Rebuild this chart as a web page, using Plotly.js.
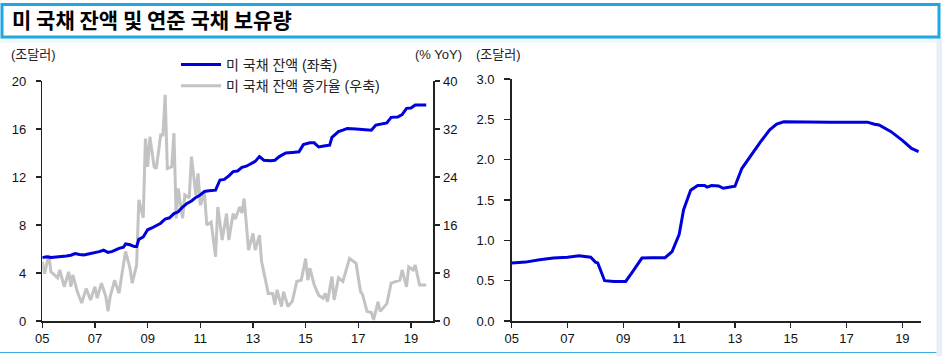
<!DOCTYPE html>
<html>
<head>
<meta charset="utf-8">
<script src="https://cdn.plot.ly/plotly-3.0.1.min.js"></script>
<style>
html,body{margin:0;padding:0;background:#fff;}
#chart{width:942px;height:356px;}
</style>
</head>
<body>
<div id="chart"></div>
<script>
// ---------- DATA ----------
const tickYears = ['2005-01-01','2007-01-01','2009-01-01','2011-01-01','2013-01-01','2015-01-01','2017-01-01','2019-01-01'];
const tickLabels = ['05','07','09','11','13','15','17','19'];

// 미 국채 잔액 (조달러, 좌축)
const debtDates = ['2005-01','2005-03','2005-05','2005-07','2005-09','2005-12',
  '2006-02','2006-04','2006-06','2006-08','2006-10','2006-12',
  '2007-03','2007-05','2007-07','2007-09','2007-12',
  '2008-02','2008-03','2008-05','2008-07','2008-08','2008-09','2008-11',
  '2009-01','2009-03','2009-05','2009-07','2009-09','2009-11',
  '2010-01','2010-03','2010-05','2010-07','2010-09','2010-11',
  '2011-01','2011-03','2011-05','2011-07','2011-08','2011-10','2011-12',
  '2012-02','2012-04','2012-06','2012-08','2012-10','2012-12',
  '2013-02','2013-04','2013-06','2013-09','2013-11',
  '2014-01','2014-04','2014-07','2014-10','2014-12',
  '2015-03','2015-05','2015-07','2015-10','2015-12',
  '2016-01','2016-04','2016-06','2016-08','2016-12',
  '2017-04','2017-07','2017-09','2017-12',
  '2018-02','2018-04','2018-07','2018-09','2018-11',
  '2019-01','2019-03','2019-08'];
const debtLevel = [5.28,5.35,5.3,5.32,5.38,5.42,
  5.48,5.62,5.55,5.5,5.58,5.65,
  5.78,5.9,5.72,5.8,6.05,
  6.15,6.42,6.35,6.2,6.2,6.8,7.0,
  7.6,7.75,7.95,8.15,8.5,8.6,
  8.95,9.1,9.5,9.8,10.0,10.3,
  10.5,10.8,10.85,10.9,10.9,11.75,11.8,
  12.1,12.45,12.5,12.8,12.9,13.1,
  13.3,13.7,13.4,13.35,13.4,
  13.7,14.0,14.05,14.1,14.7,
  14.85,14.85,14.5,14.6,14.65,
  15.3,15.78,15.9,16.05,16.0,
  15.95,15.9,16.33,16.4,
  16.5,16.97,17.0,17.2,17.72,
  17.75,18.0,18.0];

// 미 국채 잔액 증가율 (% YoY, 우축)
const growthDates = ['2005-01','2005-02','2005-04','2005-05','2005-08','2005-09','2005-11',
  '2006-01','2006-02','2006-03','2006-05','2006-07','2006-09','2006-11',
  '2007-01','2007-02','2007-04','2007-06','2007-07','2007-08','2007-10','2007-12',
  '2008-01','2008-03','2008-05','2008-06','2008-08','2008-09','2008-11','2008-12',
  '2009-01','2009-02','2009-04','2009-05','2009-07','2009-08','2009-09','2009-10','2009-12',
  '2010-01','2010-02','2010-03','2010-05','2010-06','2010-08','2010-09','2010-11','2010-12',
  '2011-01','2011-03','2011-04','2011-06','2011-08','2011-09','2011-11',
  '2012-01','2012-02','2012-04','2012-05','2012-07','2012-08','2012-09','2012-11',
  '2013-01','2013-02','2013-04','2013-05','2013-08','2013-10','2013-11','2013-12',
  '2014-02','2014-03','2014-05','2014-07','2014-09','2014-11',
  '2015-01','2015-02','2015-03','2015-05','2015-07','2015-09','2015-10','2015-11',
  '2016-01','2016-02','2016-04','2016-06','2016-08','2016-09','2016-12',
  '2017-02','2017-03','2017-05','2017-07','2017-08','2017-10','2017-11',
  '2018-02','2018-04','2018-08','2018-09','2018-11','2018-12',
  '2019-02','2019-03','2019-05','2019-08'];
const debtGrowth = [9.9,7.9,11.0,8.2,7.2,8.5,5.7,
  8.2,5.7,7.7,4.9,3.0,5.4,3.5,
  5.7,3.8,6.3,4.1,1.6,4.1,6.8,4.6,
  7.1,11.6,8.8,6.3,9.3,20.2,17.2,30.4,
  25.7,30.7,25.7,25.4,31.0,31.0,37.7,25.4,25.7,
  31.3,17.1,22.1,17.1,21.0,20.5,27.4,21.0,24.6,
  19.3,21.3,16.0,16.5,10.7,19.0,13.5,
  17.9,13.5,17.9,17.0,19.0,18.0,20.4,11.8,
  14.6,11.8,14.3,9.9,4.6,4.6,2.7,5.2,
  2.4,4.9,2.4,3.3,6.6,6.8,
  10.4,6.8,8.8,6.0,4.3,3.8,4.6,3.2,
  7.4,3.5,7.2,6.6,9.0,10.4,9.6,
  4.9,4.4,1.6,1.4,0.2,3.2,1.6,
  2.9,6.3,6.8,8.5,5.7,9.0,
  8.5,9.3,6.0,6.0];

// 연준 국채 보유량 (조달러)
const fedDates = ['2005-01','2005-07','2006-01','2006-07','2007-01','2007-06','2007-11',
  '2008-01','2008-02','2008-05','2008-09','2009-02','2009-05','2009-09',
  '2010-01','2010-07','2010-10','2011-01','2011-03','2011-06','2011-09','2011-12',
  '2012-01','2012-03','2012-06','2012-08','2012-11','2013-01','2013-04','2013-08','2013-12',
  '2014-04','2014-07','2014-10','2015-06','2016-06','2017-06','2017-10',
  '2018-01','2018-03','2018-08','2019-01','2019-05','2019-08'];
const fedHoldings = [0.72,0.73,0.76,0.78,0.79,0.81,0.79,
  0.73,0.72,0.50,0.49,0.49,0.61,0.78,
  0.785,0.785,0.86,1.07,1.38,1.62,1.68,1.68,
  1.66,1.68,1.675,1.645,1.66,1.67,1.89,2.06,2.22,
  2.37,2.44,2.47,2.465,2.465,2.465,2.465,
  2.44,2.43,2.35,2.24,2.14,2.10];

// ---------- LAYOUT HELPERS ----------
const W = 942, H = 356;
const px = v => v / W;
const py = v => 1 - v / H;

const AX = '#222222';
const FONT = 'Liberation Sans, Arial, Noto Sans CJK KR, sans-serif';
const KFONT = 'Liberation Sans, Noto Sans CJK KR, sans-serif';
const BLUE = '#0000DD';
const GRAY = '#C3C3C3';

const traces = [
  {x: debtDates, y: debtLevel, type: 'scatter', mode: 'lines', name: '미 국채 잔액 (좌축)',
   xaxis: 'x', yaxis: 'y2', line: {color: BLUE, width: 3}},
  {x: growthDates, y: debtGrowth, type: 'scatter', mode: 'lines', name: '미 국채 잔액 증가율 (우축)',
   xaxis: 'x', yaxis: 'y', line: {color: GRAY, width: 3}},
  {x: fedDates, y: fedHoldings, type: 'scatter', mode: 'lines', name: '연준 국채 보유량',
   xaxis: 'x2', yaxis: 'y3', line: {color: BLUE, width: 3}, showlegend: false}
];

const commonAxis = {
  showgrid: false, zeroline: false, showline: true, linecolor: AX, linewidth: 1.5,
  ticks: 'outside', ticklen: 5, tickwidth: 1.5, tickcolor: AX,
  tickfont: {family: FONT, size: 13, color: '#111'}, fixedrange: true
};

const layout = {
  width: W, height: H,
  margin: {l: 0, r: 0, t: 0, b: 0, pad: 0},
  paper_bgcolor: '#ffffff', plot_bgcolor: 'rgba(0,0,0,0)',
  showlegend: true,
  title: {
    text: '미 국채 잔액 및 연준 국채 보유량',
    x: px(12), xref: 'paper', xanchor: 'left',
    y: py(21), yref: 'paper', yanchor: 'middle',
    font: {family: 'Noto Sans CJK KR, sans-serif', size: 21, color: '#000', weight: 700}
  },
  legend: {
    x: px(176), y: py(49), xanchor: 'left', yanchor: 'top',
    bgcolor: 'rgba(0,0,0,0)', borderwidth: 0,
    font: {family: KFONT, size: 14, color: '#222'},
    tracegroupgap: 0, itemwidth: 40
  },
  xaxis: Object.assign({}, commonAxis, {
    domain: [px(42.3), px(433)], anchor: 'y', type: 'date',
    range: ['2005-01-01', '2019-11-03'],
    tickmode: 'array', tickvals: tickYears, ticktext: tickLabels
  }),
  yaxis: Object.assign({}, commonAxis, {
    domain: [py(321), py(81)], anchor: 'x', side: 'right',
    range: [0, 40], tickmode: 'array', tickvals: [0, 8, 16, 24, 32, 40], ticklen: 5,
    ticklabelstandoff: 1
  }),
  yaxis2: Object.assign({}, commonAxis, {
    overlaying: 'y', anchor: 'x', side: 'left',
    range: [0, 20], tickmode: 'array', tickvals: [0, 4, 8, 12, 16, 20],
    ticklabelstandoff: 7
  }),
  xaxis2: Object.assign({}, commonAxis, {
    domain: [px(511.7), px(920.7)], anchor: 'y3', type: 'date',
    range: ['2005-01-01', '2019-08-29'],
    tickmode: 'array', tickvals: tickYears, ticktext: tickLabels
  }),
  yaxis3: Object.assign({}, commonAxis, {
    domain: [py(321), py(79)], anchor: 'x2',
    range: [0, 3], tickmode: 'array', tickvals: [0, 0.5, 1, 1.5, 2, 2.5, 3],
    tickformat: '.1f', ticklen: 6, ticklabelstandoff: 7
  }),
  annotations: [
    {text: '(조달러)', xref: 'paper', yref: 'paper', x: px(9), y: py(55), xanchor: 'left', yanchor: 'middle',
     showarrow: false, font: {family: KFONT, size: 13, color: '#222'}},
    {text: '(% YoY)', xref: 'paper', yref: 'paper', x: px(464), y: py(55), xanchor: 'right', yanchor: 'middle',
     showarrow: false, font: {family: KFONT, size: 13, color: '#222'}},
    {text: '(조달러)', xref: 'paper', yref: 'paper', x: px(474), y: py(55), xanchor: 'left', yanchor: 'middle',
     showarrow: false, font: {family: KFONT, size: 13, color: '#222'}}
  ],
  shapes: [
    {type: 'rect', xref: 'paper', yref: 'paper', x0: px(0), x1: px(937), y0: py(43), y1: py(38),
     fillcolor: '#EEF9FD', line: {width: 0}, layer: 'below'},
    {type: 'rect', xref: 'paper', yref: 'paper', x0: px(936.5), x1: 1, y0: 0, y1: py(38),
     fillcolor: '#E8EEFA', line: {width: 0}, layer: 'below'},
    {type: 'rect', xref: 'paper', yref: 'paper', x0: px(2), x1: px(939), y0: py(37), y1: py(4.5),
     fillcolor: 'rgba(0,0,0,0)', line: {color: '#1FA7DF', width: 3}},
    {type: 'line', xref: 'paper', yref: 'paper', x0: 0, x1: px(936.5), y0: py(352.5), y1: py(352.5),
     line: {color: '#3AAFDF', width: 1}}
  ]
};

Plotly.newPlot('chart', traces, layout, {displayModeBar: false, staticPlot: true});
</script>
</body>
</html>
